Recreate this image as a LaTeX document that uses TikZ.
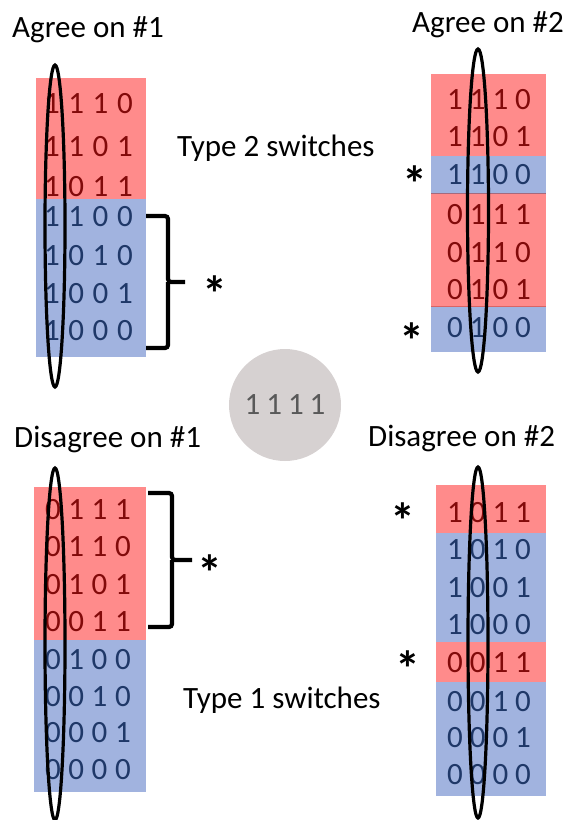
\documentclass[tikz,border=0pt]{standalone}
\usepackage{fontspec}
\setmainfont{Carlito}
\definecolor{redfill}{HTML}{FF8B8B}
\definecolor{bluefill}{HTML}{A1B3DF}
\definecolor{redtxt}{HTML}{820A0A}
\definecolor{bluetxt}{HTML}{1F3868}
\definecolor{circfill}{HTML}{D6D1D1}
\definecolor{circtxt}{HTML}{595959}
\newcommand\digrow[6]{%
  \foreach \d [count=\i] in {#6} \node[dig,text=#5] (#1-\i) at ({#2+(\i-1)*#3},#4) {\d};}
\begin{document}
\begin{tikzpicture}[x=1pt,y=-1pt,
  dig/.style={inner sep=0pt,font=\fontsize{31}{31}\selectfont},
  lbl/.style={inner sep=0pt,anchor=base west,font=\fontsize{31}{31}\selectfont},
  starlbl/.style={inner sep=0pt,anchor=base,font=\fontsize{50}{50}\selectfont\bfseries},
  oval/.style={line width=3.2pt},
  brace/.style={line width=4.2pt,rounded corners=3pt,line cap=butt}]
\useasboundingbox (0,0) rectangle (566,820);
% ---------- top-left block
\fill[redfill] (36,78) rectangle (146,199);
\fill[bluefill] (36,199) rectangle (146,357);
\digrow{tla}{52}{24.3}{104}{redtxt}{1,1,1,0}
\digrow{tlb}{52}{24.3}{147}{redtxt}{1,1,0,1}
\digrow{tlc}{52}{24.3}{187}{redtxt}{1,0,1,1}
\digrow{tld}{52}{24.3}{217}{bluetxt}{1,1,0,0}
\digrow{tle}{52}{24.3}{256}{bluetxt}{1,0,1,0}
\digrow{tlf}{52}{24.3}{294}{bluetxt}{1,0,0,1}
\digrow{tlg}{52}{24.3}{331}{bluetxt}{1,0,0,0}
\draw[oval] (55,226) ellipse [x radius=10, y radius=161];
% ---------- top-right block
\fill[redfill] (431,74) rectangle (546,156);
\fill[bluefill] (431,156) rectangle (546,193);
\fill[redfill] (431,193) rectangle (546,306);
\fill[bluefill] (431,306) rectangle (546,352);
\draw[line width=0.8pt,color=bluetxt!40!redfill] (431,193) -- (546,193);
\draw[line width=0.8pt,color=redtxt!30!redfill] (431,306) -- (546,306);
\digrow{tra}{455}{22.7}{100}{redtxt}{1,1,1,0}
\digrow{trb}{455}{22.7}{137}{redtxt}{1,1,0,1}
\digrow{trc}{455}{22.7}{175}{bluetxt}{1,1,0,0}
\digrow{trd}{455}{22.7}{215}{redtxt}{0,1,1,1}
\digrow{tre}{455}{22.7}{253}{redtxt}{0,1,1,0}
\digrow{trf}{455}{22.7}{290}{redtxt}{0,1,0,1}
\digrow{trg}{455}{22.7}{328}{bluetxt}{0,1,0,0}
\draw[oval] (478,210.5) ellipse [x radius=10.5, y radius=161.5];
% ---------- bottom-left block
\fill[redfill] (34,487) rectangle (146,640);
\fill[bluefill] (34,640) rectangle (146,792);
\digrow{bla}{53}{23.3}{510}{redtxt}{0,1,1,1}
\digrow{blb}{53}{23.3}{547}{redtxt}{0,1,1,0}
\digrow{blc}{53}{23.3}{585}{redtxt}{0,1,0,1}
\digrow{bld}{53}{23.3}{622}{redtxt}{0,0,1,1}
\digrow{ble}{53}{23.3}{660}{bluetxt}{0,1,0,0}
\digrow{blf}{53}{23.3}{697}{bluetxt}{0,0,1,0}
\digrow{blg}{53}{23.3}{733}{bluetxt}{0,0,0,1}
\digrow{blh}{53}{23.3}{770}{bluetxt}{0,0,0,0}
\draw[oval] (55,644) ellipse [x radius=10, y radius=176];
% ---------- bottom-right block
\fill[redfill] (436,485) rectangle (546,533);
\fill[bluefill] (436,533) rectangle (546,642);
\fill[redfill] (436,642) rectangle (546,682);
\fill[bluefill] (436,682) rectangle (546,796);
\digrow{bra}{455}{22.7}{513}{redtxt}{1,0,1,1}
\digrow{brb}{455}{22.7}{550}{bluetxt}{1,0,1,0}
\digrow{brc}{455}{22.7}{588}{bluetxt}{1,0,0,1}
\digrow{brd}{455}{22.7}{625}{bluetxt}{1,0,0,0}
\digrow{bre}{455}{22.7}{663}{redtxt}{0,0,1,1}
\digrow{brf}{455}{22.7}{702}{bluetxt}{0,0,1,0}
\digrow{brg}{455}{22.7}{738}{bluetxt}{0,0,0,1}
\digrow{brh}{455}{22.7}{775}{bluetxt}{0,0,0,0}
\draw[oval] (478,642.5) ellipse [x radius=10, y radius=175.5];
% ---------- centre circle
\node[circle,fill=circfill,minimum size=112pt,inner sep=0pt,text=circtxt,
      font=\fontsize{31}{31}\selectfont] (centre) at (285,405) {1\hspace{6pt}1\hspace{6pt}1\hspace{6pt}1};
% ---------- braces
\coordinate (tlbtop) at (146,216);
\coordinate (tlbbot) at (146,348);
\coordinate (tlbmid) at (168,282);
\coordinate (tlbtip) at (185,282);
\draw[brace] (tlbtop) -| (tlbmid) -- (tlbtip);
\draw[brace] (tlbbot) -| (tlbmid);
\coordinate (blbtop) at (148,493);
\coordinate (blbbot) at (148,627);
\coordinate (blbmid) at (172,560);
\coordinate (blbtip) at (192,560);
\draw[brace] (blbtop) -| (blbmid) -- (blbtip);
\draw[brace] (blbbot) -| (blbmid);
% ---------- labels
\node[lbl] (l1) at (12,37) {Agree on \#1};
\node[lbl] (l2) at (412,32) {Agree on \#2};
\node[lbl] (l3) at (177,156) {Type 2 switches};
\node[lbl] (l4) at (14,447) {Disagree on \#1};
\node[lbl] (l5) at (368,446) {Disagree on \#2};
\node[lbl] (l6) at (183,708) {Type 1 switches};
% ---------- stars
\node[starlbl] (s1) at (215,311) {*};
\node[starlbl] (s2) at (415,201) {*};
\node[starlbl] (s3) at (412,358) {*};
\node[starlbl] (s4) at (210,590) {*};
\node[starlbl] (s5) at (403,538) {*};
\node[starlbl] (s6) at (408,686) {*};
\end{tikzpicture}
\end{document}
